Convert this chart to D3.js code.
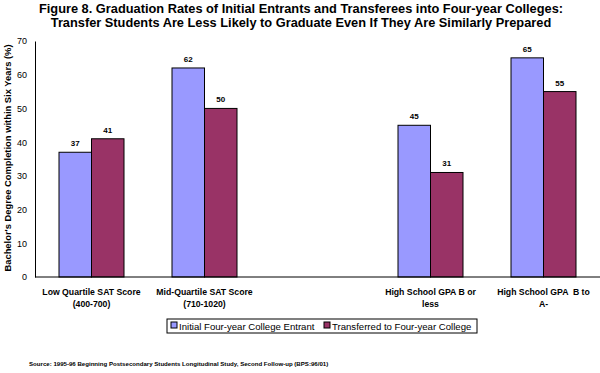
<!DOCTYPE html>
<html>
<head>
<meta charset="utf-8">
<script src="https://cdn.jsdelivr.net/npm/d3@7"></script>
<style>
  body { margin: 0; background: #fff; }
  svg { font-family: "Liberation Sans", Arial, sans-serif; }
  .title { font-size: 12.8px; font-weight: bold; }
  .tick text { font-size: 9px; fill: #000; }
  .val { font-size: 8px; font-weight: bold; }
  .cat { font-size: 8.7px; font-weight: bold; white-space: pre; }
  .legend text { font-size: 9.6px; }
  .source { font-size: 6.1px; font-weight: bold; }
  .ylab { font-size: 9.4px; font-weight: bold; }
</style>
</head>
<body>
<svg></svg>
<script>
  const w = 600;
  const h = 373;

  // Chart data
  const categories = [
    ["Low Quartile SAT Score", "(400-700)"],
    ["Mid-Quartile SAT Score", "(710-1020)"],
    [""],
    ["High School GPA B or", "less"],
    ["High School GPA  B to", "A-"]
  ];
  const seriesNames = ["Initial Four-year College Entrant", "Transferred to Four-year College"];
  const entrant = [37, 62, null, 45, 65];
  const transferred = [41, 50, null, 31, 55];
  const yTicks = [0, 10, 20, 30, 40, 50, 60, 70];
  const colors = ["#9999FF", "#993366"];

  const svg = d3.select("svg")
    .attr("width", w)
    .attr("height", h);

  const margin = { left: 35, right: 0, top: 41, bottom: 96 };

  const x = d3.scaleBand()
    .domain(d3.range(categories.length))
    .range([margin.left, w - margin.right]);

  const x1 = d3.scaleBand()
    .domain([0, 1])
    .range([0, 65])
    .padding(0);

  const y = d3.scaleLinear()
    .domain([0, 70])
    .range([h - margin.bottom, margin.top]);

  // Title
  const title = ["Figure 8. Graduation Rates of Initial Entrants and Transferees into Four-year Colleges:",
    "Transfer Students Are Less Likely to Graduate Even If They Are Similarly Prepared"];
  svg.selectAll(".title")
    .data(title)
    .enter()
    .append("text")
    .attr("class", "title")
    .attr("x", 301)
    .attr("y", (d, i) => 13 + i * 14)
    .attr("text-anchor", "middle")
    .text((d) => d);

  // Bars
  const rows = categories.map((c, i) => ({ i, vals: [entrant[i], transferred[i]] }));
  const groups = svg.append("g")
    .selectAll("g")
    .data(rows)
    .enter()
    .append("g")
    .attr("transform", (d) => `translate(${x(d.i) + x.bandwidth() / 2 - 32.5},0)`);

  groups.selectAll("rect")
    .data((d) => d.vals.map((v, k) => ({ v, k })).filter((e) => e.v !== null))
    .enter()
    .append("rect")
    .attr("x", (d) => x1(d.k))
    .attr("y", (d) => y(d.v))
    .attr("width", x1.bandwidth())
    .attr("height", (d) => y(0) - y(d.v))
    .attr("fill", (d) => colors[d.k])
    .attr("stroke", "#000")
    .attr("stroke-width", 1);

  groups.selectAll(".val")
    .data((d) => d.vals.map((v, k) => ({ v, k })).filter((e) => e.v !== null))
    .enter()
    .append("text")
    .attr("class", "val")
    .attr("x", (d) => x1(d.k) + x1.bandwidth() / 2)
    .attr("y", (d) => y(d.v) - 6)
    .attr("text-anchor", "middle")
    .text((d) => d.v);

  // Axes
  svg.append("g")
    .attr("transform", `translate(${margin.left},0)`)
    .call(d3.axisLeft(y).tickValues(yTicks).tickSize(0).tickPadding(8))
    .call((g) => g.select(".domain").attr("stroke", "#000"));

  svg.append("line")
    .attr("x1", margin.left)
    .attr("x2", w)
    .attr("y1", y(0))
    .attr("y2", y(0))
    .attr("stroke", "#000");

  // Category labels
  const cats = svg.append("g");
  categories.forEach((lines, i) => {
    const t = cats.append("text")
      .attr("class", "cat")
      .attr("text-anchor", "middle")
      .attr("x", x(i) + x.bandwidth() / 2)
      .attr("y", 295);
    lines.forEach((l, j) => {
      t.append("tspan")
        .attr("x", x(i) + x.bandwidth() / 2)
        .attr("dy", j === 0 ? 0 : 12)
        .text(l);
    });
  });

  // Y label
  svg.append("text")
    .attr("class", "ylab")
    .attr("transform", `translate(11,${y(35) - 1}) rotate(-90)`)
    .attr("text-anchor", "middle")
    .text("Bachelor's Degree Completion within Six Years (%)");

  // Legend
  const legend = svg.append("g").attr("class", "legend");
  legend.append("rect")
    .attr("x", 167)
    .attr("y", 319)
    .attr("width", 310)
    .attr("height", 14)
    .attr("fill", "#fff")
    .attr("stroke", "#000");
  const lx = [171, 324];
  seriesNames.forEach((n, k) => {
    legend.append("rect")
      .attr("x", lx[k])
      .attr("y", 322)
      .attr("width", 6)
      .attr("height", 6)
      .attr("fill", colors[k])
      .attr("stroke", "#000");
    legend.append("text")
      .attr("x", lx[k] + 8)
      .attr("y", 329.5)
      .text(n);
  });

  // Source
  svg.append("text")
    .attr("class", "source")
    .attr("x", 29)
    .attr("y", 366)
    .text("Source: 1995-96 Beginning Postsecondary Students Longitudinal Study, Second Follow-up (BPS:96/01)");
</script>
</body>
</html>
